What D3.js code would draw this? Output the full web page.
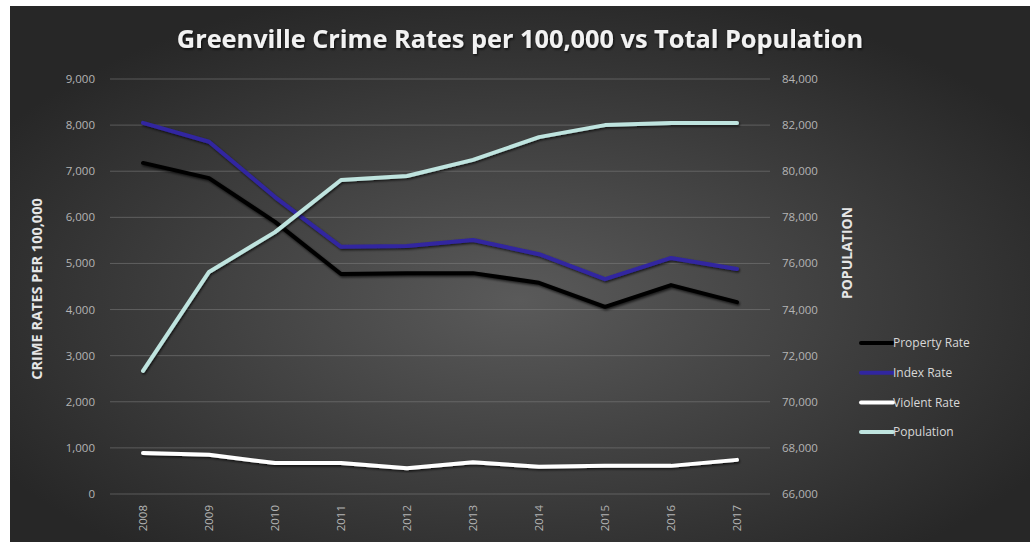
<!DOCTYPE html>
<html>
<head>
<meta charset="utf-8">
<script src="https://cdn.jsdelivr.net/npm/d3@7"></script>
<style>
  body { margin: 0; background: #fff; }
  svg { display: block; font-family: "Open Sans", Lato, sans-serif; }
</style>
</head>
<body>
<div id="chart"></div>
<script>
// data
const years = ["2008", "2009", "2010", "2011", "2012", "2013", "2014", "2015", "2016", "2017"];
const propertyRate = [7180, 6850, 5900, 4770, 4790, 4790, 4580, 4060, 4530, 4160];
const indexRate = [8050, 7640, 6440, 5360, 5380, 5510, 5200, 4660, 5120, 4880];
const violentRate = [890, 850, 670, 670, 560, 690, 590, 610, 610, 740];
const population = [71340, 75630, 77360, 79620, 79790, 80490, 81480, 82000, 82090, 82090];

const leftTicks = d3.range(0, 9001, 1000);
const rightTicks = d3.range(66000, 84001, 2000);

const width = 1032, height = 542;

const svg = d3.select("#chart").append("svg")
    .attr("width", width)
    .attr("height", height);

// background with radial light in the middle
const defs = svg.append("defs");
const grad = defs.append("radialGradient")
    .attr("id", "bg")
    .attr("cx", "50%").attr("cy", "55%").attr("r", "60%");
grad.append("stop").attr("offset", "0%").attr("stop-color", "#5a5a5a");
grad.append("stop").attr("offset", "100%").attr("stop-color", "#272727");

const shadow = defs.append("filter").attr("id", "shadow")
    .attr("x", "-10%").attr("y", "-30%").attr("width", "120%").attr("height", "160%");
shadow.append("feDropShadow")
    .attr("dx", 1).attr("dy", 1.5).attr("stdDeviation", 1.2)
    .attr("flood-color", "#000").attr("flood-opacity", 0.7);

svg.append("rect")
    .attr("x", 10).attr("y", 6)
    .attr("width", width - 12).attr("height", height - 6)
    .attr("fill", "url(#bg)");

// scales
const x = d3.scalePoint().domain(years).range([143, 737]);
const y = d3.scaleLinear().domain([0, 9000]).range([494, 79]);
const y2 = d3.scaleLinear().domain([66000, 84000]).range([494, 79]);

// gridlines
svg.append("g")
  .selectAll("line")
  .data(leftTicks)
  .join("line")
    .attr("x1", 110).attr("x2", 770)
    .attr("y1", d => y(d)).attr("y2", d => y(d))
    .attr("stroke", "#808080")
    .attr("stroke-opacity", 0.55)
    .attr("stroke-width", 1);

// left axis labels
const fmt = d3.format(",");
svg.append("g")
  .selectAll("text")
  .data(leftTicks)
  .join("text")
    .attr("x", 95)
    .attr("y", d => y(d))
    .attr("dy", "0.35em")
    .attr("text-anchor", "end")
    .attr("fill", "#b4b4b4")
    .attr("font-size", 11.5)
    .text(d => fmt(d));

// right axis labels
svg.append("g")
  .selectAll("text")
  .data(rightTicks)
  .join("text")
    .attr("x", 782)
    .attr("y", d => y2(d))
    .attr("dy", "0.35em")
    .attr("fill", "#b4b4b4")
    .attr("font-size", 11.5)
    .text(d => fmt(d));

// x axis labels, rotated
svg.append("g")
  .selectAll("text")
  .data(years)
  .join("text")
    .attr("transform", d => `translate(${x(d)},505) rotate(-90)`)
    .attr("dy", "0.35em")
    .attr("text-anchor", "end")
    .attr("fill", "#b4b4b4")
    .attr("font-size", 11.5)
    .text(d => d);

// axis titles
svg.append("text")
    .attr("transform", "translate(37,289) rotate(-90)")
    .attr("dy", "0.35em")
    .attr("text-anchor", "middle")
    .attr("fill", "#e6e6e6")
    .attr("font-size", 14.5)
    .attr("font-weight", "bold")
    .text("CRIME RATES PER 100,000");

svg.append("text")
    .attr("transform", "translate(847,253) rotate(-90)")
    .attr("dy", "0.35em")
    .attr("text-anchor", "middle")
    .attr("fill", "#e6e6e6")
    .attr("font-size", 14)
    .attr("font-weight", "bold")
    .text("POPULATION");

// title
svg.append("text")
    .attr("x", 520)
    .attr("y", 48)
    .attr("text-anchor", "middle")
    .attr("fill", "#f2f2f2")
    .attr("font-size", 25.3)
    .attr("font-weight", "bold")
    .attr("filter", "url(#shadow)")
    .text("Greenville Crime Rates per 100,000 vs Total Population");

// series
const series = [
  { name: "Property Rate", values: propertyRate, scale: y, color: "#000000" },
  { name: "Index Rate", values: indexRate, scale: y, color: "#3126a0" },
  { name: "Violent Rate", values: violentRate, scale: y, color: "#ffffff" },
  { name: "Population", values: population, scale: y2, color: "#bfe4df" }
];

svg.append("g")
  .selectAll("path")
  .data(series)
  .join("path")
    .attr("fill", "none")
    .attr("stroke", s => s.color)
    .attr("stroke-width", 4)
    .attr("stroke-linejoin", "round")
    .attr("stroke-linecap", "round")
    .attr("filter", "url(#shadow)")
    .attr("d", s => d3.line()
        .x((v, i) => x(years[i]))
        .y(v => s.scale(v))(s.values));

// legend
const legend = svg.append("g")
  .selectAll("g")
  .data(series)
  .join("g")
    .attr("transform", (s, i) => `translate(861,${343 + i * 29.7})`);

legend.append("line")
    .attr("x1", 0).attr("x2", 32)
    .attr("stroke", s => s.color)
    .attr("stroke-width", 4)
    .attr("stroke-linecap", "round");

legend.append("text")
    .attr("x", 32)
    .attr("dy", "0.35em")
    .attr("fill", "#d8d8d8")
    .attr("font-size", 12)
    .text(s => s.name);
</script>
</body>
</html>
